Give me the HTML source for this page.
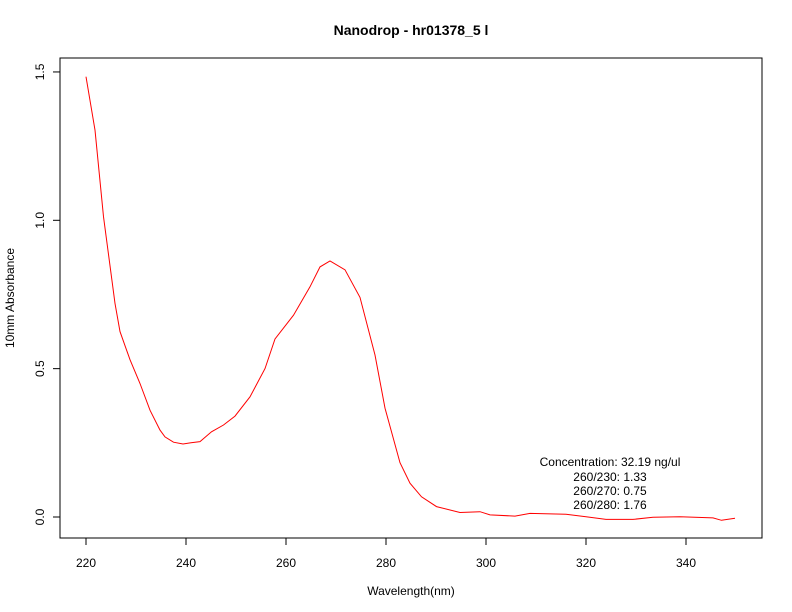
<!DOCTYPE html>
<html><head><meta charset="utf-8"><style>
body{margin:0;background:#fff}
svg{display:block;font-family:"Liberation Sans",Arial,sans-serif}
</style></head><body>
<svg id="chart" width="792" height="612" viewBox="0 0 792 612">
<rect width="792" height="612" fill="#fff"/>
<text x="411" y="35" text-anchor="middle" font-size="14" font-weight="bold">Nanodrop - hr01378_5 l</text>
<rect x="60" y="58" width="702" height="480" fill="none" stroke="#000" stroke-width="1"/>
<g id="xaxis"></g>
<g id="yaxis"></g>
<text x="411" y="595" text-anchor="middle" font-size="12">Wavelength(nm)</text>
<text transform="translate(14,298) rotate(-90)" text-anchor="middle" font-size="12">10mm Absorbance</text>
<path id="series" fill="none" stroke="#ff0000" stroke-width="1"/>
<g font-size="12" text-anchor="middle">
<text x="610" y="466">Concentration: 32.19 ng/ul</text>
<text x="610" y="481">260/230: 1.33</text>
<text x="610" y="495">260/270: 0.75</text>
<text x="610" y="509">260/280: 1.76</text>
</g>
</svg>
<script>
const wavelengths=[220,221.8,223.5,225.8,226.8,228.8,230.8,232.8,234.8,235.8,237.5,239.4,241,242.8,245.1,247.5,249.8,252.8,255.8,257.8,261.5,264.8,266.8,268.8,271.8,274.8,277.8,279.8,282.8,284.8,287.1,290.1,294.8,298.8,300.8,305.8,308.8,316,320,324,329.4,333.4,338.8,345.4,347.1,349.8];
const absorbance=[1.484,1.304,1.012,0.72,0.625,0.53,0.45,0.36,0.293,0.27,0.252,0.246,0.25,0.254,0.287,0.31,0.34,0.405,0.5,0.6,0.68,0.776,0.843,0.863,0.833,0.74,0.546,0.367,0.183,0.114,0.068,0.035,0.015,0.018,0.007,0.003,0.012,0.009,0.001,-0.008,-0.008,-0.001,0.001,-0.003,-0.011,-0.004];
const xTicks=[220,240,260,280,300,320,340];
const yTicks=[0.0,0.5,1.0,1.5];
const yTickLabels=["0.0","0.5","1.0","1.5"];
const NS="http://www.w3.org/2000/svg";
function xs(v){return 86+(v-220)*5;}
function ys(v){return 517-v*296.7;}
const d=wavelengths.map((w,i)=>(i?"L":"M")+xs(w).toFixed(1)+","+ys(absorbance[i]).toFixed(1)).join(" ");
document.getElementById("series").setAttribute("d",d);
const xg=document.getElementById("xaxis");
xTicks.forEach(t=>{
 const l=document.createElementNS(NS,"line");
 
 
 l.setAttribute("x1",xs(t));l.setAttribute("x2",xs(t));l.setAttribute("y1",538);l.setAttribute("y2",545);l.setAttribute("stroke","#000");
 xg.appendChild(l);
 const tx=document.createElementNS(NS,"text");
 
 
 tx.setAttribute("x",xs(t));tx.setAttribute("y",567);tx.setAttribute("text-anchor","middle");tx.setAttribute("font-size","12");
 tx.textContent=t;xg.appendChild(tx);
});
const yg=document.getElementById("yaxis");
yTicks.forEach((t,i)=>{
 const l=document.createElementNS(NS,"line");
 
 
 l.setAttribute("x1",53);l.setAttribute("x2",60);l.setAttribute("y1",ys(t));l.setAttribute("y2",ys(t));l.setAttribute("stroke","#000");
 yg.appendChild(l);
 const tx=document.createElementNS(NS,"text");
 
 
 tx.setAttribute("transform","translate(44,"+ys(t)+") rotate(-90)");tx.setAttribute("text-anchor","middle");tx.setAttribute("font-size","12");
 tx.textContent=yTickLabels[i];yg.appendChild(tx);
});
</script>
</body></html>
